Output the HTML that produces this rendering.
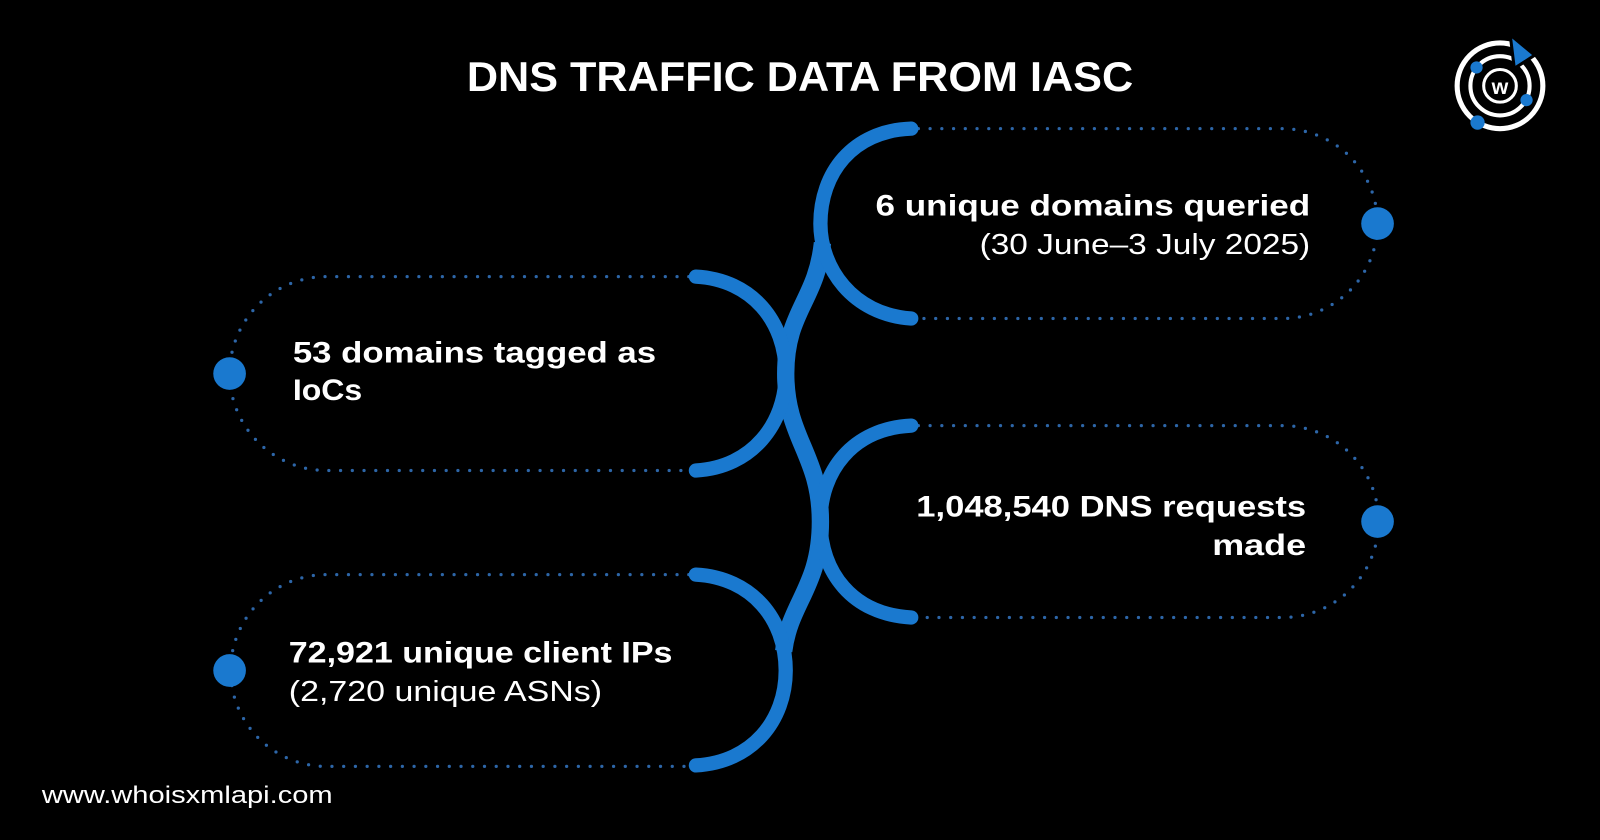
<!DOCTYPE html>
<html><head><meta charset="utf-8"><style>
html,body{margin:0;padding:0;background:#000;}
svg{display:block;}
text{font-family:"Liberation Sans",sans-serif;fill:#fff;}
</style></head><body>
<svg width="1600" height="840" viewBox="0 0 1568 823" xmlns="http://www.w3.org/2000/svg">
<rect width="1568" height="823" fill="#000"/>
<text x="784" y="89" text-anchor="middle" font-size="41" font-weight="bold" textLength="653" lengthAdjust="spacingAndGlyphs">DNS TRAFFIC DATA FROM IASC</text>

<g fill="none" stroke="#2d66a8" stroke-width="3.2" stroke-linecap="round" stroke-dasharray="0 11.5">
<path d="M900,126 H1257 A93,93 0 0 1 1257,312 H900"/>
<path d="M675,271 H320 A95,95 0 0 0 320,461 H675"/>
<path d="M900,417 H1257 A94,94 0 0 1 1257,605 H900"/>
<path d="M675,563 H320 A94,94 0 0 0 320,751 H675"/>
</g>
<g fill="#1a79cf">
<circle cx="1350" cy="219" r="16"/>
<circle cx="225" cy="366" r="16"/>
<circle cx="1350" cy="511" r="16"/>
<circle cx="225" cy="657" r="16"/>
</g>

<g fill="none" stroke="#1a79cf">
<path stroke-width="17" stroke-linecap="butt" d="M806,238 C800,295 770,305 770,366 C770,430 804,445 804,511 C804,575 774,590 768,638"/>
<g stroke-width="14" stroke-linecap="round">
<path d="M893,126 C835,128 804,170 804,219 C804,262 835,308 893,312"/>
<path d="M682,271 C737,274 770,315 770,366 C770,415 737,458 682,461"/>
<path d="M893,417 C835,420 804,462 804,511 C804,560 835,602 893,605"/>
<path d="M682,563 C737,566 770,607 770,657 C770,706 737,747 682,750"/>
</g>
</g>

<text x="1284" y="211" text-anchor="end" font-size="29" font-weight="bold" textLength="426" lengthAdjust="spacingAndGlyphs">6 unique domains queried</text>
<text x="1284" y="249" text-anchor="end" font-size="28" textLength="324" lengthAdjust="spacingAndGlyphs">(30 June–3 July 2025)</text>

<text x="287" y="355" font-size="29" font-weight="bold" textLength="356" lengthAdjust="spacingAndGlyphs">53 domains tagged as</text>
<text x="287" y="392" font-size="29" font-weight="bold" textLength="68" lengthAdjust="spacingAndGlyphs">IoCs</text>

<text x="1280" y="506" text-anchor="end" font-size="29" font-weight="bold" textLength="382" lengthAdjust="spacingAndGlyphs">1,048,540 DNS requests</text>
<text x="1280" y="544" text-anchor="end" font-size="29" font-weight="bold" textLength="92" lengthAdjust="spacingAndGlyphs">made</text>

<text x="283" y="649" font-size="29" font-weight="bold" textLength="376" lengthAdjust="spacingAndGlyphs">72,921 unique client IPs</text>
<text x="283" y="687" font-size="28" textLength="307" lengthAdjust="spacingAndGlyphs">(2,720 unique ASNs)</text>

<text x="41" y="787" font-size="24" textLength="285" lengthAdjust="spacingAndGlyphs">www.whoisxmlapi.com</text>

<g transform="translate(1470,84)">
<circle r="42" fill="none" stroke="#fff" stroke-width="5"/>
<circle r="29" fill="none" stroke="#fff" stroke-width="4"/>
<circle r="16" fill="none" stroke="#fff" stroke-width="3"/>
<path d="M10,-50 L34,-30 L14,-17 Z" fill="#1a79cf" stroke="#000" stroke-width="3"/>
<circle cx="-23" cy="-18" r="6" fill="#1a79cf"/>
<circle cx="26" cy="14" r="6" fill="#1a79cf"/>
<circle cx="-22" cy="36" r="7" fill="#1a79cf"/>
<text x="0" y="8" text-anchor="middle" font-size="21" font-weight="bold">w</text>
</g>
</svg>
</body></html>
